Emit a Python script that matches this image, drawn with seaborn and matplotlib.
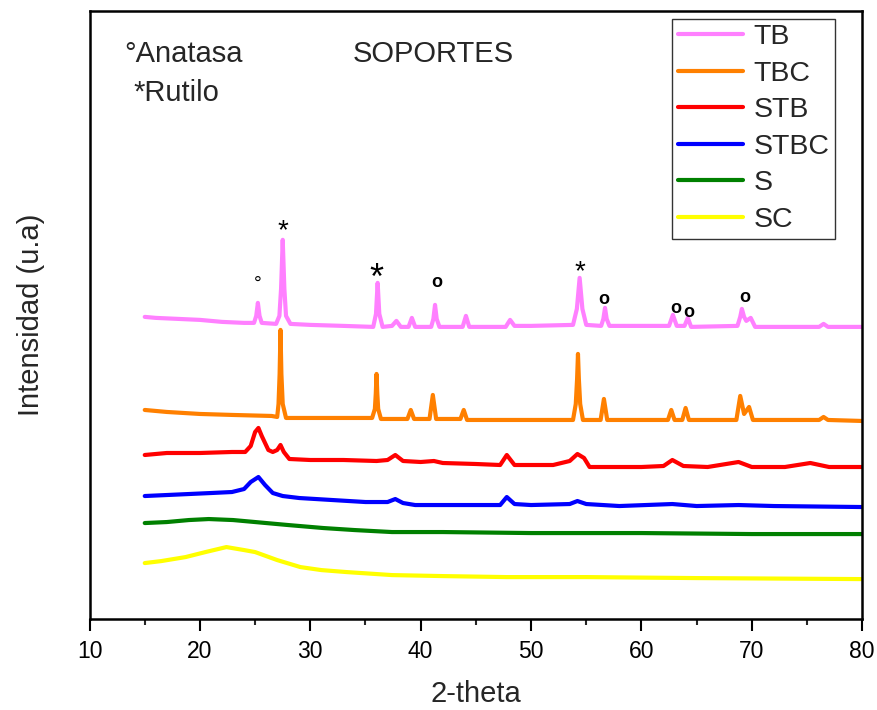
import numpy as np
import pandas as pd
import matplotlib
matplotlib.use("Agg")
import matplotlib.pyplot as plt
from matplotlib.ticker import MultipleLocator
import seaborn as sns

# ---- data (2-theta, stacked intensity in arbitrary units) ----
tb_x = [15.0, 16, 18, 20, 22, 24, 24.9, 25.1, 25.25, 25.4, 25.6, 26.9, 27.2, 27.35, 27.5, 27.65, 27.8, 28.2,
        30, 33, 35.7, 35.95, 36.1, 36.25, 36.55, 37.4, 37.8, 38.2, 38.9, 39.2, 39.5, 40.95, 41.15, 41.3,
        41.45, 41.7, 43.8, 44.1, 44.4, 47.7, 48.1, 48.5, 50, 53.8, 54.15, 54.4, 54.65, 55.0, 56.35, 56.55,
        56.7, 56.85, 57.1, 62.5, 62.85, 63.2, 63.9, 64.2, 64.5, 68.7, 68.95, 69.1, 69.3, 69.5, 69.9, 70.3,
        76.1, 76.5, 76.9, 80]
tb_y = [302, 301, 300, 299, 297, 296, 296, 303, 316, 303, 296, 295, 303, 330, 379, 330, 303, 295,
        294, 293, 292, 305, 336, 305, 292, 293, 298, 292, 292, 301, 292, 292, 300, 314,
        300, 292, 292, 303, 292, 292, 299, 293, 293, 294, 310, 341, 310, 294, 293, 300,
        311, 300, 293, 293, 304, 293, 293, 301, 292, 293, 302, 310, 302, 298, 301, 292,
        292, 295, 292, 292]

tbc_x = [15.0, 17, 20, 23, 26.5, 27.0, 27.12, 27.22, 27.3, 27.38, 27.5, 27.8, 30, 35.6, 35.85, 35.93, 36.0,
         36.07, 36.15, 36.4, 38.8, 39.1, 39.4, 40.8, 41.1, 41.4, 43.6, 43.9, 44.2, 50, 53.8, 54.05, 54.17,
         54.25, 54.33, 54.45, 54.7, 56.3, 56.6, 56.9, 62.4, 62.7, 63.0, 63.7, 64.0, 64.3, 68.6, 68.95, 69.3,
         69.75, 70.1, 76.1, 76.5, 76.9, 80]
tbc_y = [209, 207, 205, 204, 203, 202, 215, 245, 289, 245, 215, 201, 201, 201, 210, 225, 245,
         225, 210, 200, 200, 209, 200, 200, 224, 200, 200, 209, 199, 199, 199, 215, 240,
         265, 240, 215, 199, 199, 220, 199, 199, 209, 199, 199, 211, 199, 199, 223, 205,
         212, 199, 199, 202, 199, 198]

stb_x = [15.0, 17, 20, 22.9, 24.1, 24.6, 25.0, 25.3, 25.6, 26.2, 26.6, 27.0, 27.3, 27.6, 28.1, 30, 33, 36.0,
         37.0, 37.7, 38.4, 40, 41.2, 42, 45, 47.2, 47.8, 48.5, 50, 52, 53.5, 54.2, 54.8, 55.3, 57, 60, 62.0,
         62.8, 63.8, 66, 68.8, 70, 73, 75.3, 77, 80]
stb_y = [164, 166, 166, 167, 167, 173, 187, 191, 183, 169, 167, 169, 174, 167, 160, 159, 159, 158,
         159, 164, 158, 157, 158, 156, 155, 154, 164, 154, 154, 154, 158, 165, 161, 152, 152, 152, 153,
         159, 153, 152, 157, 152, 152, 156, 152, 152]

stbc_x = [15, 17, 19, 21, 22.9, 24.0, 24.6, 25.3, 25.9, 26.6, 27.5, 29, 32, 35, 37.0, 37.7, 38.4, 39.5, 42,
          45, 47.2, 47.8, 48.5, 50, 53.5, 54.2, 55, 58, 62.8, 65, 68.8, 72, 80]
stbc_y = [123, 124, 125, 126, 127, 130, 137, 142, 134, 126, 123, 121, 119, 117, 117, 120, 116, 114, 114,
          114, 114, 122, 115, 114, 115, 118, 115, 113, 115, 113, 114, 113, 112]

s_x = [15, 17, 19, 20.8, 23, 25, 28, 31.2, 34, 37.4, 42, 50, 60, 70, 80]
s_y = [96, 97, 99, 100, 99, 97, 94, 91, 89, 87, 87, 86, 86, 85, 85]

sc_x = [15, 16.5, 18.7, 20.5, 22.4, 24, 25, 27, 29.1, 31, 33.3, 37.4, 42, 47.8, 55, 65, 80]
sc_y = [56, 58, 62, 67, 72, 69, 67, 59, 52, 49, 47, 44, 43, 42, 42, 41, 40]

series_names = ["TB", "TBC", "STB", "STBC", "S", "SC"]
series_colors = ["#FF80FF", "#FF8000", "#FF0000", "#0000FF", "#008000", "#FFFF00"]

# phase markers: symbol, 2-theta, height, font size
marker_sym = ["°", "*", "*", "o", "*", "o", "o", "o", "o"]
marker_x = [25.2, 27.5, 36.0, 41.5, 54.4, 56.6, 63.1, 64.3, 69.4]
marker_y = [335, 388, 339, 336, 347, 319, 310, 306, 321]
marker_size = [14, 20, 26, 13, 20, 13, 13, 13, 13]

# ---- build long-form table ----
xs = [tb_x, tbc_x, stb_x, stbc_x, s_x, sc_x]
ys = [tb_y, tbc_y, stb_y, stbc_y, s_y, sc_y]
frames = []
for name, x, y in zip(series_names, xs, ys):
    frames.append(pd.DataFrame({"2-theta": x, "I": y, "muestra": name}))
df = pd.concat(frames, ignore_index=True)

sns.set_style("ticks")
plt.rcParams["font.family"] = ["Liberation Sans", "DejaVu Sans"]

fig = plt.figure(figsize=(8.78, 7.10), dpi=100)
ax = fig.add_axes([0.102, 0.128, 0.880, 0.857])

sns.lineplot(data=df, x="2-theta", y="I", hue="muestra", hue_order=series_names,
             palette=dict(zip(series_names, series_colors)), sort=False,
             estimator=None, linewidth=3.0, ax=ax)

ax.set_xlim(10, 80)
ax.set_ylim(0, 608)
ax.xaxis.set_major_locator(MultipleLocator(10))
ax.xaxis.set_minor_locator(MultipleLocator(5))
ax.set_yticks([])
ax.tick_params(axis="x", which="major", direction="out", length=8.6, width=1.5,
               labelsize=16.5, pad=6.5, colors="black")
ax.tick_params(axis="x", which="minor", direction="out", length=4.3, width=1.5)
for sp in ax.spines.values():
    sp.set_visible(True)
    sp.set_color("black")
    sp.set_linewidth(1.8)

ax.set_xlabel("2-theta", fontsize=21, labelpad=12)
ax.set_ylabel("Intensidad (u.a)", fontsize=21, labelpad=32)

for sym, x, y, sz in zip(marker_sym, marker_x, marker_y, marker_size):
    ax.text(x, y, sym, fontsize=sz, ha="center", va="center", color="black",
            fontweight="bold" if sym == "o" else "normal")

ax.text(0.0447, 0.928, "°Anatasa", transform=ax.transAxes, fontsize=21, ha="left", va="center")
ax.text(0.0563, 0.865, "*Rutilo", transform=ax.transAxes, fontsize=21, ha="left", va="center")
ax.text(0.341, 0.928, "SOPORTES", transform=ax.transAxes, fontsize=21, ha="left", va="center")

leg = ax.legend(loc="upper right", bbox_to_anchor=(0.965, 0.987), borderaxespad=0,
                fontsize=20.5, frameon=True, fancybox=False, edgecolor="black",
                handlelength=2.3, handletextpad=0.35, labelspacing=0.37, borderpad=0.2)
leg.get_frame().set_linewidth(1.0)
for line in leg.get_lines():
    line.set_linewidth(3)

fig.savefig("out.png", dpi=100)
